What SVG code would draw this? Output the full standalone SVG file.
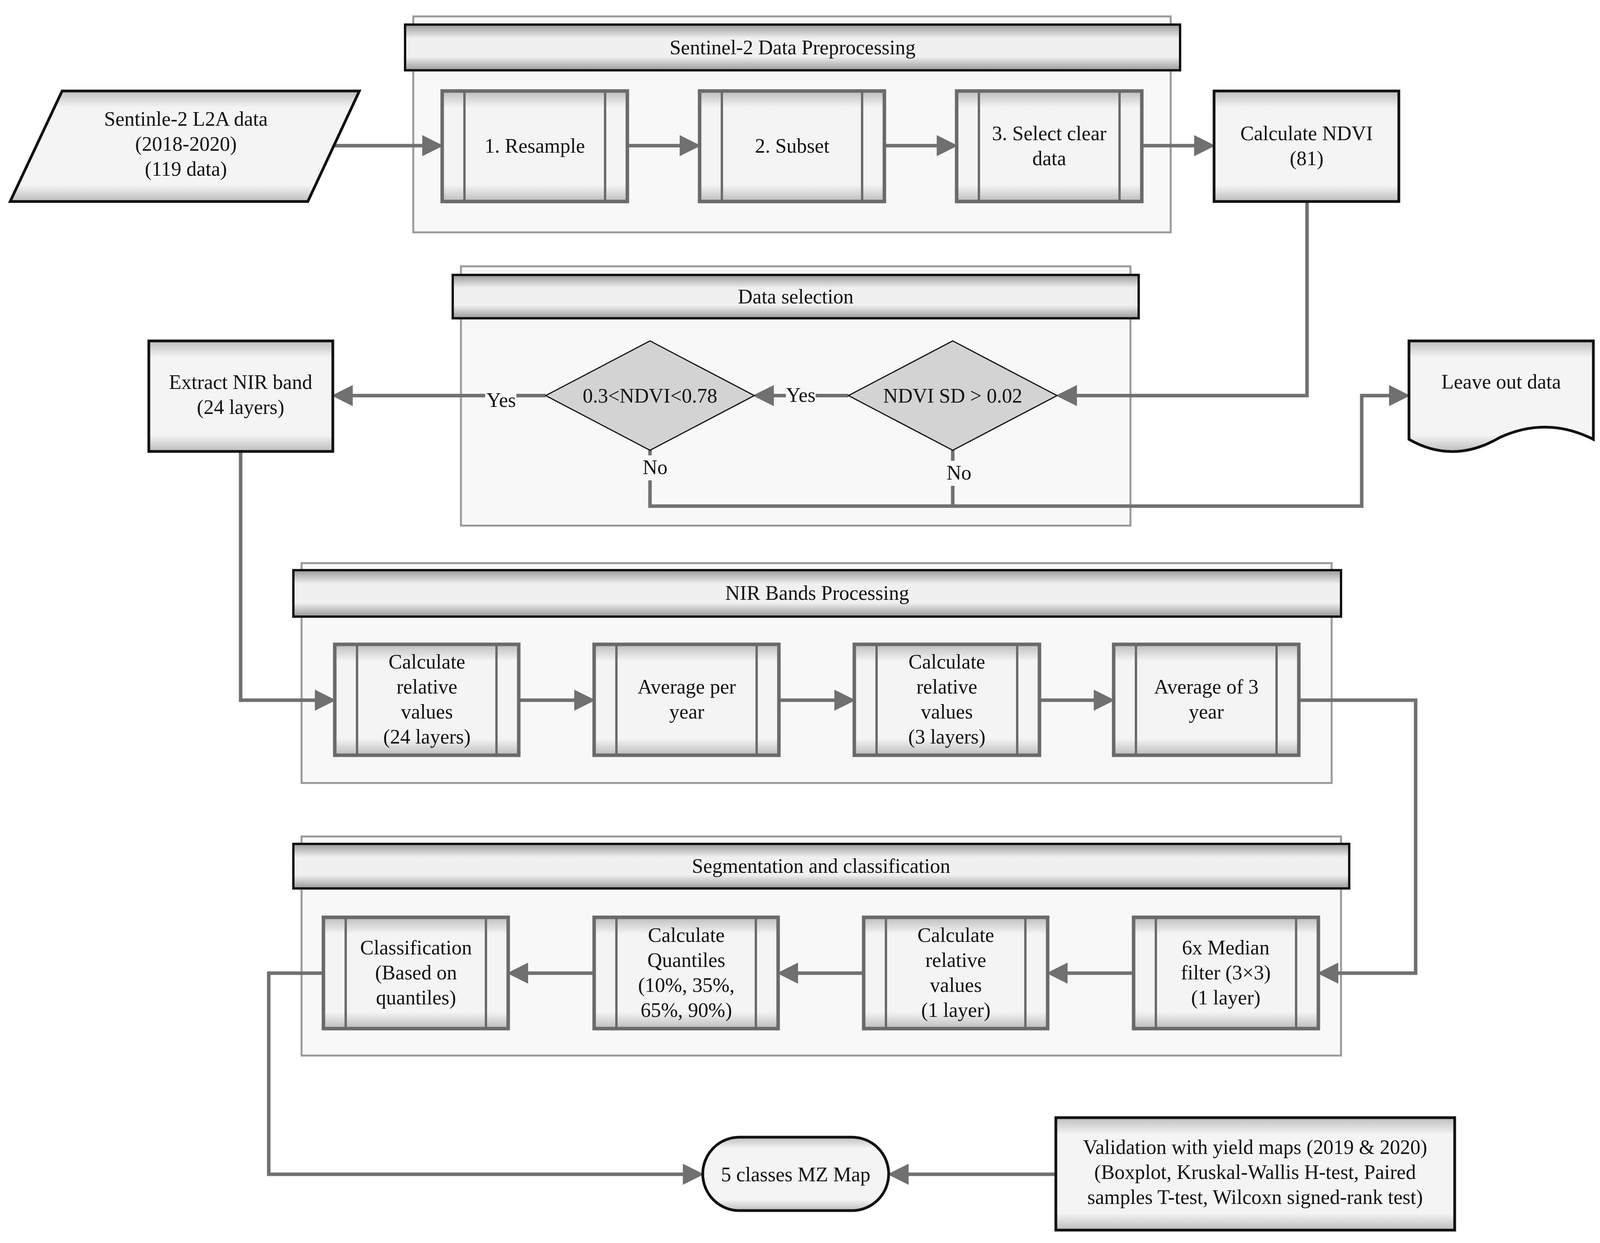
<svg xmlns="http://www.w3.org/2000/svg" width="4126" height="3183" viewBox="0 0 4126 3183">
<style>
text{font-family:"Liberation Serif","DejaVu Serif",serif;font-size:52px;fill:#111;text-anchor:middle}
.panel{fill:#f8f8f8;stroke:#9a9a9a;stroke-width:5}
.hdr{fill:url(#hg);stroke:#111;stroke-width:6}
.pb{fill:url(#bg);stroke:#6a6a6a;stroke-width:9}
.pl{stroke:#6a6a6a;stroke-width:6}
.dk{fill:url(#bg);stroke:#111;stroke-width:7}
.dia{fill:#d3d3d3;stroke:#111;stroke-width:3}
.c{fill:none;stroke:#707070;stroke-width:9}
.lab{fill:#f8f8f8}
</style>
<defs>
<linearGradient id="bg" x1="0" y1="0" x2="0" y2="1"><stop offset="0" stop-color="#bdbdbd"/><stop offset="0.15" stop-color="#f4f4f4"/><stop offset="0.85" stop-color="#f4f4f4"/><stop offset="1" stop-color="#bdbdbd"/></linearGradient>
<linearGradient id="hg" x1="0" y1="0" x2="0" y2="1"><stop offset="0" stop-color="#9a9a9a"/><stop offset="0.3" stop-color="#f0f0f0"/><stop offset="0.7" stop-color="#f0f0f0"/><stop offset="1" stop-color="#9a9a9a"/></linearGradient>
<marker id="a" markerWidth="6" markerHeight="6" refX="5" refY="3" orient="auto" markerUnits="strokeWidth"><path d="M0,0L6,3L0,6z" fill="#707070"/></marker>
</defs>
<rect width="4126" height="3183" fill="#fff"/>
<g id="panel-sentinel"><rect class="panel" x="1058" y="42" width="1939" height="553"/><rect class="hdr" x="1037" y="63" width="1984" height="117"/><text x="2029" y="139">Sentinel-2 Data Preprocessing</text></g>
<g id="panel-selection"><rect class="panel" x="1180" y="682" width="1714" height="664"/><rect class="hdr" x="1159" y="704" width="1756" height="111"/><text x="2037" y="777">Data selection</text></g>
<g id="panel-nir"><rect class="panel" x="772" y="1442" width="2637" height="563"/><rect class="hdr" x="751" y="1460" width="2682" height="119"/><text x="2092" y="1536">NIR Bands Processing</text></g>
<g id="panel-seg"><rect class="panel" x="772" y="2142" width="2661" height="561"/><rect class="hdr" x="751" y="2161" width="2703" height="114"/><text x="2102" y="2235">Segmentation and classification</text></g>
<g id="connectors">
<path class="c" d="M850,373H1126" marker-end="url(#a)"/>
<path class="c" d="M1606,373H1785" marker-end="url(#a)"/>
<path class="c" d="M2264,373H2443" marker-end="url(#a)"/>
<path class="c" d="M2923,373H3102" marker-end="url(#a)"/>
<path class="c" d="M3346,516V1013H2712" marker-end="url(#a)"/>
<path class="c" d="M2172,1013H1936" marker-end="url(#a)"/>
<path class="c" d="M1397,1013H858" marker-end="url(#a)"/>
<path class="c" d="M1664,1153V1296H3486V1013H3601" marker-end="url(#a)"/>
<path class="c" d="M2439,1153V1296"/>
<path class="c" d="M616,1156V1793H851" marker-end="url(#a)"/>
<path class="c" d="M1328,1793H1515" marker-end="url(#a)"/>
<path class="c" d="M1994,1793H2181" marker-end="url(#a)"/>
<path class="c" d="M2661,1793H2845" marker-end="url(#a)"/>
<path class="c" d="M3325,1793H3624V2492H3381" marker-end="url(#a)"/>
<path class="c" d="M2902,2492H2688" marker-end="url(#a)"/>
<path class="c" d="M2211,2492H1998" marker-end="url(#a)"/>
<path class="c" d="M1521,2492H1307" marker-end="url(#a)"/>
<path class="c" d="M828,2492H688V3007H1793" marker-end="url(#a)"/>
<path class="c" d="M2703,3007H2281" marker-end="url(#a)"/>
<rect class="lab" x="2012" y="975" width="76" height="64"/><text x="2050" y="1029">Yes</text>
<rect class="lab" x="1242" y="990" width="80" height="64"/><text x="1283" y="1042">Yes</text>
<rect class="lab" x="1645" y="1166" width="64" height="64"/><text x="1677" y="1214">No</text>
<rect class="lab" x="2423" y="1180" width="64" height="64"/><text x="2455" y="1228">No</text>
</g>
<g id="input"><path d="M159,233H920L788,516H26Z" fill="url(#bg)" stroke="#111" stroke-width="7"/><text x="476" y="322">Sentinle-2 L2A data</text><text x="476" y="386">(2018-2020)</text><text x="476" y="450">(119 data)</text></g>
<g id="resample"><rect class="pb" x="1132" y="233" width="474" height="283"/><path class="pl" d="M1189,233V516M1549,233V516"/><text x="1369" y="391">1. Resample</text></g>
<g id="subset"><rect class="pb" x="1791" y="233" width="473" height="283"/><path class="pl" d="M1848,233V516M2207,233V516"/><text x="2028" y="391">2. Subset</text></g>
<g id="select"><rect class="pb" x="2449" y="233" width="474" height="283"/><path class="pl" d="M2506,233V516M2866,233V516"/><text x="2686" y="359">3. Select clear</text><text x="2686" y="423">data</text></g>
<g id="ndvi"><rect class="dk" x="3108" y="233" width="473" height="283"/><text x="3345" y="359">Calculate NDVI</text><text x="3345" y="423">(81)</text></g>
<g id="d2"><path class="dia" d="M2439,873L2706,1013L2439,1153L2172,1013Z"/><text x="2439" y="1031">NDVI SD &gt; 0.02</text></g>
<g id="d1"><path class="dia" d="M1664,873L1931,1013L1664,1153L1397,1013Z"/><text x="1664" y="1031">0.3&lt;NDVI&lt;0.78</text></g>
<g id="extract"><rect class="dk" x="381" y="873" width="471" height="283"/><text x="616" y="996">Extract NIR band</text><text x="616" y="1060">(24 layers)</text></g>
<g id="leave"><path d="M3607,873H4079V1125Q3960,1065 3840,1120Q3720,1190 3607,1125Z" fill="url(#bg)" stroke="#111" stroke-width="7"/><text x="3843" y="995">Leave out data</text></g>
<g id="n1"><rect class="pb" x="857" y="1650" width="471" height="284"/><path class="pl" d="M914,1650V1934M1271,1650V1934"/><text x="1093" y="1712">Calculate</text><text x="1093" y="1776">relative</text><text x="1093" y="1840">values</text><text x="1093" y="1904">(24 layers)</text></g>
<g id="n2"><rect class="pb" x="1521" y="1650" width="473" height="284"/><path class="pl" d="M1578,1650V1934M1937,1650V1934"/><text x="1758" y="1776">Average per</text><text x="1758" y="1840">year</text></g>
<g id="n3"><rect class="pb" x="2187" y="1650" width="474" height="284"/><path class="pl" d="M2244,1650V1934M2604,1650V1934"/><text x="2424" y="1712">Calculate</text><text x="2424" y="1776">relative</text><text x="2424" y="1840">values</text><text x="2424" y="1904">(3 layers)</text></g>
<g id="n4"><rect class="pb" x="2851" y="1650" width="474" height="284"/><path class="pl" d="M2908,1650V1934M3268,1650V1934"/><text x="3088" y="1776">Average of 3</text><text x="3088" y="1840">year</text></g>
<g id="s1"><rect class="pb" x="2902" y="2349" width="473" height="285"/><path class="pl" d="M2959,2349V2634M3318,2349V2634"/><text x="3138" y="2444">6x Median</text><text x="3138" y="2508">filter (3×3)</text><text x="3138" y="2572">(1 layer)</text></g>
<g id="s2"><rect class="pb" x="2211" y="2349" width="471" height="285"/><path class="pl" d="M2268,2349V2634M2625,2349V2634"/><text x="2447" y="2412">Calculate</text><text x="2447" y="2476">relative</text><text x="2447" y="2540">values</text><text x="2447" y="2604">(1 layer)</text></g>
<g id="s3"><rect class="pb" x="1521" y="2349" width="471" height="285"/><path class="pl" d="M1578,2349V2634M1935,2349V2634"/><text x="1757" y="2412">Calculate</text><text x="1757" y="2476">Quantiles</text><text x="1757" y="2540">(10%, 35%,</text><text x="1757" y="2604">65%, 90%)</text></g>
<g id="s4"><rect class="pb" x="828" y="2349" width="473" height="285"/><path class="pl" d="M885,2349V2634M1244,2349V2634"/><text x="1065" y="2444">Classification</text><text x="1065" y="2508">(Based on</text><text x="1065" y="2572">quantiles)</text></g>
<g id="mz"><rect x="1799" y="2912" width="476" height="188" rx="94" fill="url(#bg)" stroke="#111" stroke-width="7"/><text x="2037" y="3025">5 classes MZ Map</text></g>
<g id="validation"><rect class="dk" x="2703" y="2862" width="1021" height="288"/><text x="3213" y="2955">Validation with yield maps (2019 &amp; 2020)</text><text x="3213" y="3019">(Boxplot, Kruskal-Wallis H-test, Paired</text><text x="3213" y="3083">samples T-test, Wilcoxn signed-rank test)</text></g>
</svg>
